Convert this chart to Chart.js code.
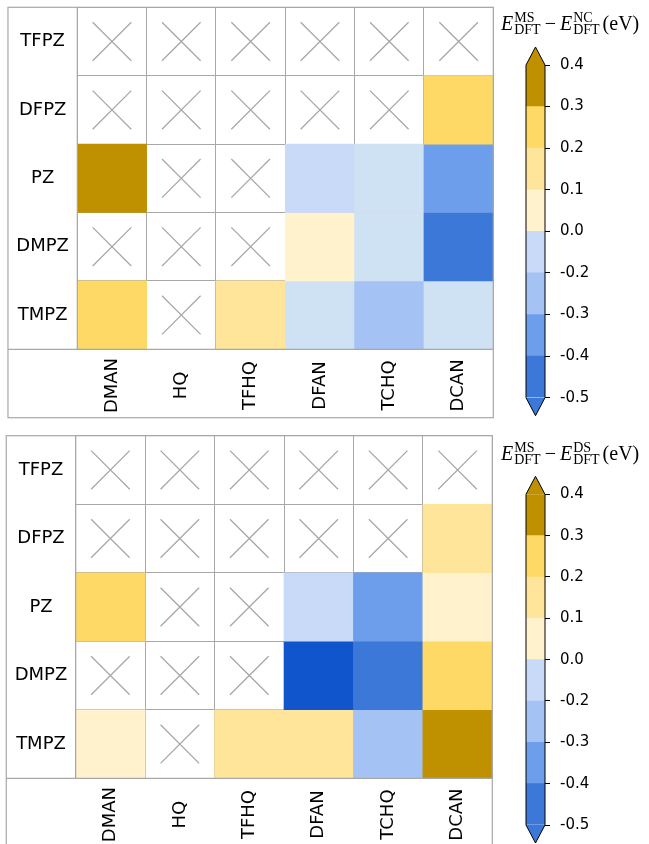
<!DOCTYPE html>
<html lang="en">
<head>
  <meta charset="UTF-8">
  <title>Energy differences MS vs NC / DS</title>
  <script src="https://cdn.jsdelivr.net/npm/chart.js"></script>
  <style>
    body { margin: 0; background: #fff; }
    .wrap { position: relative; width: 649px; height: 844px; overflow: hidden; }
    canvas { position: absolute; }
  </style>
</head>
<body>
<div class="wrap">
  <canvas id="mapNC" width="649" height="421" style="left:0;top:0"></canvas>
  <canvas id="barNC" width="159" height="421" style="left:490px;top:0"></canvas>
  <canvas id="mapDS" width="649" height="423" style="left:0;top:421px"></canvas>
  <canvas id="barDS" width="159" height="423" style="left:490px;top:421px"></canvas>
</div>
<script>
const columns = ['DMAN', 'HQ', 'TFHQ', 'DFAN', 'TCHQ', 'DCAN'];
const rows = ['TFPZ', 'DFPZ', 'PZ', 'DMPZ', 'TMPZ'];

// E_MS - E_NC (eV), null = pair not computed
const ncTFPZ = [null, null, null, null, null, null];
const ncDFPZ = [null, null, null, null, null, 0.25];
const ncPZ   = [0.35, null, null, -0.05, -0.15, -0.35];
const ncDMPZ = [null, null, null, 0.05, -0.15, -0.45];
const ncTMPZ = [0.25, null, 0.15, -0.15, -0.25, -0.15];

// E_MS - E_DS (eV)
const dsTFPZ = [null, null, null, null, null, null];
const dsDFPZ = [null, null, null, null, null, 0.15];
const dsPZ   = [0.25, null, null, -0.05, -0.35, 0.05];
const dsDMPZ = [null, null, null, -0.55, -0.45, 0.25];
const dsTMPZ = [0.05, null, 0.15, 0.15, -0.25, 0.45];

// colour bins for the cells
const cellEdges = [-0.5, -0.4, -0.3, -0.2, -0.1, 0, 0.1, 0.2, 0.3];
const cellColors = ['#1155CC', '#3C78D8', '#6D9EEB', '#A4C2F4', '#CFE2F3', '#C9DAF8',
                    '#FFF2CC', '#FFE599', '#FFD966', '#BF9000'];

// colorbar boundaries and segments, bottom to top
const cbTicks = [-0.5, -0.4, -0.3, -0.2, 0.0, 0.1, 0.2, 0.3, 0.4];
const cbColors = ['#3C78D8', '#6D9EEB', '#A4C2F4', '#C9DAF8', '#FFF2CC', '#FFE599', '#FFD966', '#BF9000'];

const lineGrey = '#a8a8a8';

function cellColor(v) {
  if (v === null) return '#ffffff';
  return cellColors[cellEdges.filter(e => e <= v).length];
}

// outer box, label column / row and the labels themselves
const framePlugin = {
  id: 'frame',
  afterDraw(chart) {
    const { ctx, chartArea: a, scales: { x, y } } = chart;
    const colW = x.getPixelForValue(1) - x.getPixelForValue(0);
    const rowH = y.getPixelForValue(0) - y.getPixelForValue(1);
    const L = a.left - colW, B = a.bottom + rowH;
    ctx.save();
    ctx.strokeStyle = lineGrey;
    ctx.lineWidth = 1.2;
    ctx.strokeRect(L, a.top, a.right - L, B - a.top);
    ctx.beginPath();
    ctx.moveTo(L, a.bottom);
    ctx.lineTo(a.right, a.bottom);
    ctx.moveTo(a.left, a.top);
    ctx.lineTo(a.left, a.bottom);
    ctx.stroke();

    ctx.fillStyle = '#000';
    ctx.font = '18px "DejaVu Sans"';
    ctx.textAlign = 'center';
    ctx.textBaseline = 'middle';
    rows.forEach((r, i) => {
      ctx.fillText(r, L + colW / 2, y.getPixelForValue(rows.length - 0.5 - i));
    });
    columns.forEach((c, j) => {
      ctx.save();
      ctx.translate(x.getPixelForValue(j), a.bottom + rowH / 2 + 2);
      ctx.rotate(-Math.PI / 2);
      ctx.fillText(c, 0, 0);
      ctx.restore();
    });
    ctx.restore();
  }
};

function heatmap(id, table, pad) {
  const n = rows.length;
  const datasets = table.map((vals, i) => ({
    type: 'bar',
    data: vals.map(v => v === null ? null : [n - 1 - i, n - i]),
    backgroundColor: vals.map(cellColor),
    borderWidth: 0,
    grouped: false,
    barPercentage: 1,
    categoryPercentage: 1
  }));

  // crosses for the missing pairs
  const crosses = [];
  table.forEach((vals, i) => vals.forEach((v, j) => {
    if (v === null) crosses.push({ x: columns[j], y: n - 0.5 - i });
  }));
  datasets.push({
    type: 'line',
    data: crosses,
    showLine: false,
    pointStyle: 'crossRot',
    pointRadius: 27.3,
    pointBorderColor: lineGrey,
    pointBorderWidth: 1.3,
    pointBackgroundColor: 'transparent'
  });

  new Chart(document.getElementById(id), {
    type: 'bar',
    data: { labels: columns, datasets },
    options: {
      responsive: false,
      animation: false,
      events: [],
      layout: { padding: pad, autoPadding: false },
      plugins: { legend: { display: false }, tooltip: { enabled: false } },
      scales: {
        x: {
          offset: true,
          z: 1,
          grid: { offset: true, color: lineGrey, drawTicks: false },
          border: { display: false },
          ticks: { display: false }
        },
        y: {
          min: 0,
          max: n,
          z: 1,
          grid: { color: lineGrey, drawTicks: false },
          border: { display: false },
          ticks: { stepSize: 1, display: false }
        }
      }
    },
    plugins: [framePlugin]
  });
}

// E^{MS}_{DFT} - E^{sup}_{DFT} (eV)
function mathTitle(ctx, x, y, sup) {
  const main = '20px "Liberation Serif"';
  const mainIt = 'italic 20px "Liberation Serif"';
  const script = '14px "Liberation Serif"';
  ctx.fillStyle = '#000';
  ctx.textAlign = 'left';
  ctx.textBaseline = 'alphabetic';
  const put = (t, f, dx, dy) => {
    ctx.font = f;
    ctx.fillText(t, x + dx, y + dy);
    return ctx.measureText(t).width;
  };
  const term = s => {
    x += put('E', mainIt, 0, 0) + 1;
    const w1 = put(s, script, 0, -8);
    const w2 = put('DFT', script, 0, 4);
    x += Math.max(w1, w2);
  };
  term('MS');
  x += put('\u2212', main, 4, 0) + 8;
  term(sup);
  x += 3;
  put('(eV)', main, 0, 0);
}

const outlinePlugin = {
  id: 'outline',
  afterDatasetsDraw(chart, args, opts) {
    const { ctx, chartArea: a } = chart;
    const cx = (a.left + a.right) / 2, h = 18;
    ctx.save();
    ctx.fillStyle = cbColors[cbColors.length - 1];
    ctx.beginPath();
    ctx.moveTo(a.left, a.top);
    ctx.lineTo(cx, a.top - h);
    ctx.lineTo(a.right, a.top);
    ctx.closePath();
    ctx.fill();
    ctx.fillStyle = cbColors[0];
    ctx.beginPath();
    ctx.moveTo(a.left, a.bottom);
    ctx.lineTo(cx, a.bottom + h);
    ctx.lineTo(a.right, a.bottom);
    ctx.closePath();
    ctx.fill();

    ctx.strokeStyle = '#000';
    ctx.lineWidth = 1;
    ctx.beginPath();
    ctx.moveTo(a.left, a.top);
    ctx.lineTo(cx, a.top - h);
    ctx.lineTo(a.right, a.top);
    ctx.lineTo(a.right, a.bottom);
    ctx.lineTo(cx, a.bottom + h);
    ctx.lineTo(a.left, a.bottom);
    ctx.closePath();
    ctx.stroke();

    mathTitle(ctx, 11, opts.baseline, opts.sup);
    ctx.restore();
  }
};

function colorbar(id, sup, baseline, pad) {
  const datasets = cbColors.map((c, i) => ({
    data: [[i, i + 1]],
    backgroundColor: c,
    borderWidth: 0,
    grouped: false,
    barPercentage: 1,
    categoryPercentage: 1
  }));
  new Chart(document.getElementById(id), {
    type: 'bar',
    data: { labels: [''], datasets },
    options: {
      responsive: false,
      animation: false,
      events: [],
      layout: { padding: pad, autoPadding: false },
      plugins: {
        legend: { display: false },
        tooltip: { enabled: false },
        outline: { sup, baseline }
      },
      scales: {
        x: { display: false },
        y: {
          position: 'right',
          min: 0,
          max: cbTicks.length - 1,
          afterFit: s => { s.width = 104; },
          ticks: {
            stepSize: 1,
            padding: 10,
            color: '#000',
            font: { family: 'DejaVu Sans', size: 15 },
            callback: v => cbTicks[v].toFixed(1)
          },
          grid: { drawOnChartArea: false, tickLength: 5, color: '#000' },
          border: { display: false }
        }
      }
    },
    plugins: [outlinePlugin]
  });
}

heatmap('mapNC', [ncTFPZ, ncDFPZ, ncPZ, ncDMPZ, ncTMPZ],
  { left: 77.3, top: 7.3, right: 155.7, bottom: 71.7 });
heatmap('mapDS', [dsTFPZ, dsDFPZ, dsPZ, dsDMPZ, dsTMPZ],
  { left: 75.7, top: 14.7, right: 156.7, bottom: 65.7 });
colorbar('barNC', 'NC', 30, { left: 36, top: 65, right: 0, bottom: 23.3 });
colorbar('barDS', 'DS', 38.5, { left: 36, top: 73.3, right: 0, bottom: 17.3 });
</script>
</body>
</html>
